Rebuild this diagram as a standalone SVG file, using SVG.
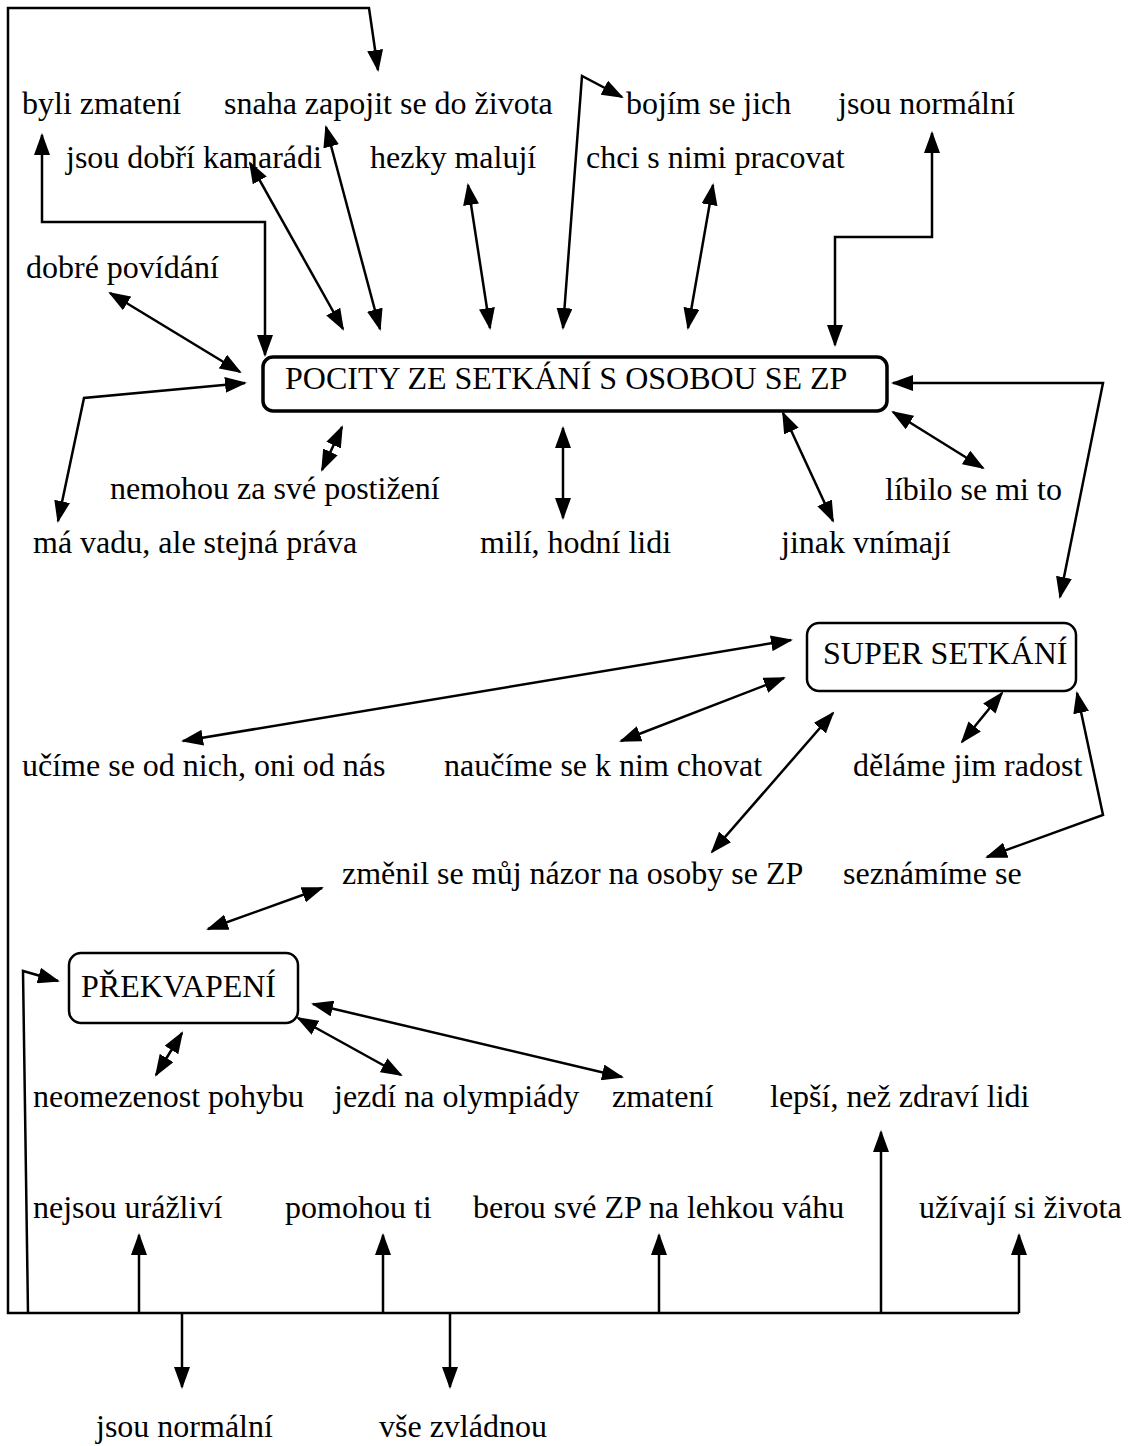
<svg xmlns="http://www.w3.org/2000/svg" width="1131" height="1446" viewBox="0 0 1131 1446">
<style>
text{font-family:"Liberation Serif","Times New Roman",serif;font-size:32px;fill:#000}
.box{fill:#fff;stroke:#000;stroke-width:2.5}
.main{stroke-width:3.5}
.c path{fill:none;stroke:#000;stroke-width:2.5}
.b{marker-start:url(#ah);marker-end:url(#ah)}
.e{marker-end:url(#ah)}
.s{marker-start:url(#ah)}
</style>
<defs>
<marker id="ah" viewBox="0 0 22 16" refX="20" refY="8" markerWidth="22" markerHeight="16" markerUnits="userSpaceOnUse" orient="auto-start-reverse"><path d="M0,0 L22,8 L0,16 z" fill="#000"/></marker>
</defs>
<rect width="1131" height="1446" fill="#fff"/>
<g class="c" id="connectors">
<path class="s" d="M378,70 L369,8 L8,8 L8,1313 L1019,1313"/>
<path class="e" d="M139,1313 V1235"/>
<path class="e" d="M383,1313 V1235"/>
<path class="e" d="M659,1313 V1235"/>
<path class="e" d="M881,1313 V1132"/>
<path class="e" d="M1019,1313 V1235"/>
<path class="e" d="M182,1313 V1387"/>
<path class="e" d="M450,1313 V1387"/>
<path class="e" d="M28,1313 L23,971 L58,981"/>
<path class="b" d="M42,135 V222 H265 V355"/>
<path class="b" d="M250,163 L343,329"/>
<path class="b" d="M326,127 L380,329"/>
<path class="b" d="M468,185 L490,328"/>
<path class="b" d="M563,328 L582,76 L622,97"/>
<path class="b" d="M713,185 L688,328"/>
<path class="b" d="M932,133 V237 H835 V345"/>
<path class="b" d="M110,293 L240,372"/>
<path class="b" d="M58,521 L84,398 L245,383"/>
<path class="b" d="M342,427 L322,470"/>
<path class="b" d="M563,428 V518"/>
<path class="b" d="M783,413 L833,521"/>
<path class="b" d="M893,412 L983,468"/>
<path class="b" d="M893,383 H1103 L1060,597"/>
<path class="b" d="M183,741 L791,640"/>
<path class="b" d="M621,741 L784,678"/>
<path class="b" d="M712,852 L833,713"/>
<path class="b" d="M1002,693 L962,742"/>
<path class="b" d="M1077,693 L1103,815 L987,857"/>
<path class="b" d="M208,929 L322,888"/>
<path class="b" d="M182,1033 L156,1075"/>
<path class="b" d="M298,1018 L401,1075"/>
<path class="b" d="M313,1004 L622,1077"/>
</g>
<g id="pocity"><rect class="box main" x="263" y="357" width="624" height="54" rx="10"/><text x="285" y="389">POCITY ZE SETKÁNÍ S OSOBOU SE ZP</text></g>
<g id="super"><rect class="box" x="807" y="623" width="269" height="68" rx="12"/><text x="823" y="664">SUPER SETKÁNÍ</text></g>
<g id="prekvapeni"><rect class="box" x="69" y="953" width="229" height="70" rx="12"/><text x="81" y="997">PŘEKVAPENÍ</text></g>
<g id="t1"><text x="22" y="114">byli zmatení</text></g>
<g id="t2"><text x="224" y="114">snaha zapojit se do života</text></g>
<g id="t3"><text x="626" y="114">bojím se jich</text></g>
<g id="t4"><text x="838" y="114">jsou normální</text></g>
<g id="t5"><text x="66" y="168">jsou dobří kamarádi</text></g>
<g id="t6"><text x="370" y="168">hezky malují</text></g>
<g id="t7"><text x="586" y="168">chci s nimi pracovat</text></g>
<g id="t8"><text x="26" y="278">dobré povídání</text></g>
<g id="t9"><text x="110" y="499">nemohou za své postižení</text></g>
<g id="t10"><text x="885" y="500">líbilo se mi to</text></g>
<g id="t11"><text x="33" y="553">má vadu, ale stejná práva</text></g>
<g id="t12"><text x="480" y="553">milí, hodní lidi</text></g>
<g id="t13"><text x="781" y="553">jinak vnímají</text></g>
<g id="t14"><text x="22" y="776">učíme se od nich, oni od nás</text></g>
<g id="t15"><text x="444" y="776">naučíme se k nim chovat</text></g>
<g id="t16"><text x="853" y="776">děláme jim radost</text></g>
<g id="t17"><text x="342" y="884">změnil se můj názor na osoby se ZP</text></g>
<g id="t18"><text x="843" y="884">seznámíme se</text></g>
<g id="t19"><text x="33" y="1107">neomezenost pohybu</text></g>
<g id="t20"><text x="334" y="1107">jezdí na olympiády</text></g>
<g id="t21"><text x="612" y="1107">zmatení</text></g>
<g id="t22"><text x="770" y="1107">lepší, než zdraví lidi</text></g>
<g id="t23"><text x="33" y="1218">nejsou urážliví</text></g>
<g id="t24"><text x="285" y="1218">pomohou ti</text></g>
<g id="t25"><text x="473" y="1218">berou své ZP na lehkou váhu</text></g>
<g id="t26"><text x="919" y="1218">užívají si života</text></g>
<g id="t27"><text x="96" y="1437">jsou normální</text></g>
<g id="t28"><text x="379" y="1437">vše zvládnou</text></g>
</svg>
